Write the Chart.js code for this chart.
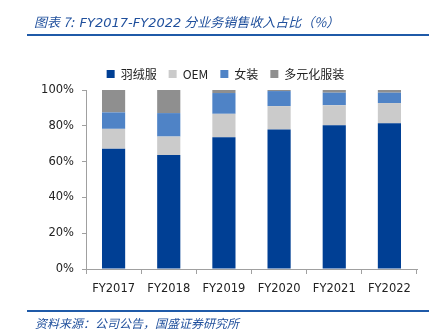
<!DOCTYPE html>
<html>
<head>
<meta charset="utf-8">
<script src="https://cdn.jsdelivr.net/npm/chart.js@4"></script>
<style>
  html, body { margin: 0; padding: 0; background: #fff; width: 435px; height: 333px; overflow: hidden; }
  #wrap { position: relative; width: 435px; height: 333px; }
  #chart { position: absolute; left: 0; top: 0; }
  .title { position: absolute; left: 34px; top: 12px; font-family: "Noto Sans CJK SC", sans-serif; font-style: italic; font-size: 13px; color: #1f4f9c; white-space: nowrap; }
  .title b { font-family: "DejaVu Sans", sans-serif; font-weight: normal; font-size: 13px; }
  .rule { position: absolute; left: 27px; width: 402px; height: 2px; background: #1f5aa8; }
  .source { position: absolute; left: 35px; top: 314px; font-family: "Noto Sans CJK SC", sans-serif; font-style: italic; font-size: 12px; color: #1f4f9c; white-space: nowrap; }
</style>
</head>
<body>
<div id="wrap">
  <canvas id="chart" width="435" height="333"></canvas>
  <div class="title">图表 7:&nbsp; <b>FY2017-FY2022</b> 分业务销售收入占比（%）</div>
  <div class="rule" style="top:34px"></div>
  <div class="rule" style="top:310px"></div>
  <div class="source">资料来源：公司公告，国盛证券研究所</div>
</div>
<script>
const categories = ["FY2017", "FY2018", "FY2019", "FY2020", "FY2021", "FY2022"];
const seriesNames = ["羽绒服", "OEM", "女装", "多元化服装"];
const downWear   = [67.2, 63.7, 73.6, 77.9, 80.3, 81.4];
const oem        = [11.1, 10.3, 13.1, 13.1, 11.2, 11.3];
const womenWear  = [9.2, 13.1, 11.6, 8.4, 7.0, 5.8];
const diversified = [12.5, 12.9, 1.7, 0.6, 1.5, 1.5];
const yTicks = [0, 20, 40, 60, 80, 100];

const colors = ["#003f94", "#cbcbcb", "#4f83c6", "#8f8f8f"];
const seriesValues = [downWear, oem, womenWear, diversified];

new Chart(document.getElementById("chart"), {
  type: "bar",
  data: {
    labels: categories,
    datasets: seriesValues.map((vals, i) => ({
      label: seriesNames[i],
      data: vals,
      backgroundColor: colors[i],
      borderWidth: 0,
      barPercentage: 0.84,
      categoryPercentage: 0.5
    }))
  },
  options: {
    responsive: false,
    animation: false,
    devicePixelRatio: 1,
    layout: { padding: { left: 34, right: 18, top: 56, bottom: 34 } },
    plugins: {
      legend: {
        position: "top",
        labels: {
          boxWidth: 8, boxHeight: 8, padding: 12,
          color: "#222",
          font: { family: "'Noto Sans CJK SC', 'DejaVu Sans', sans-serif", size: 12 }
        }
      },
      tooltip: { enabled: false }
    },
    scales: {
      x: {
        stacked: true,
        grid: { display: true, offset: true, drawOnChartArea: false, drawTicks: true, tickLength: 5, color: "#a0a0a0" },
        border: { display: true, color: "#a0a0a0" },
        ticks: { color: "#222", font: { family: "'DejaVu Sans', sans-serif", size: 11.5 }, padding: 8, maxRotation: 0 },
        afterFit: s => { s.height = 30; }
      },
      y: {
        stacked: true,
        min: 0, max: 100,
        afterBuildTicks: s => { s.ticks = yTicks.map(v => ({ value: v })); },
        grid: { display: true, drawOnChartArea: false, drawTicks: true, tickLength: 4, color: "#a0a0a0" },
        border: { display: true, color: "#a0a0a0" },
        ticks: { color: "#222", font: { family: "'DejaVu Sans', sans-serif", size: 11.5 }, padding: 8, callback: v => v + "%" },
        afterFit: s => { s.width = 52; }
      }
    }
  }
});
</script>
</body>
</html>
